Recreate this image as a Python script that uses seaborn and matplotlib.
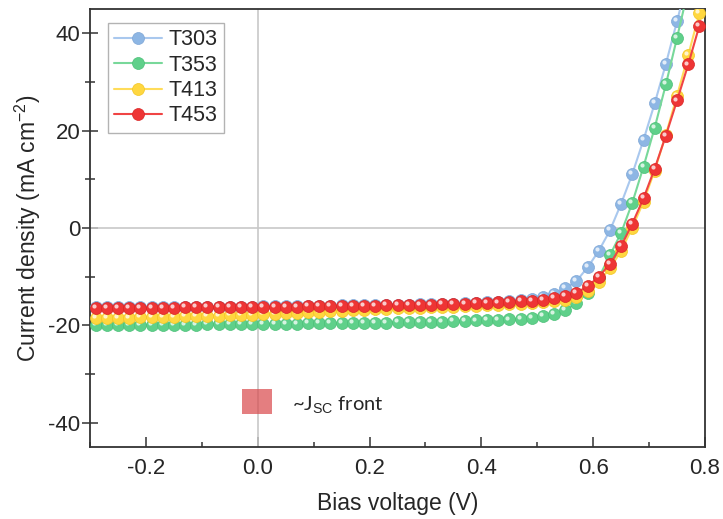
import numpy as np
import pandas as pd
import matplotlib
matplotlib.use("Agg")
import matplotlib.pyplot as plt
import seaborn as sns
from matplotlib.patches import Rectangle
from matplotlib.transforms import ScaledTranslation
from matplotlib.ticker import MultipleLocator, FixedLocator, FixedFormatter

# ---------------- data ----------------
voltage = [-0.29, -0.27, -0.25, -0.23, -0.21, -0.19, -0.17, -0.15, -0.13, -0.11,
           -0.09, -0.07, -0.05, -0.03, -0.01, 0.01, 0.03, 0.05, 0.07, 0.09,
           0.11, 0.13, 0.15, 0.17, 0.19, 0.21, 0.23, 0.25, 0.27, 0.29,
           0.31, 0.33, 0.35, 0.37, 0.39, 0.41, 0.43, 0.45, 0.47, 0.49,
           0.51, 0.53, 0.55, 0.57, 0.59, 0.61, 0.63, 0.65, 0.67, 0.69,
           0.71, 0.73, 0.75, 0.77, 0.79]

j_t303 = [-16.3, -16.3, -16.3, -16.3, -16.3, -16.3, -16.3, -16.3, -16.2, -16.2,
          -16.2, -16.2, -16.2, -16.2, -16.2, -16.1, -16.1, -16.1, -16.1, -16.0,
          -16.0, -16.0, -15.9, -15.9, -15.9, -15.9, -15.8, -15.8, -15.8, -15.7,
          -15.7, -15.6, -15.6, -15.5, -15.4, -15.3, -15.2, -15.1, -14.8, -14.5,
          -14.1, -13.5, -12.4, -10.9, -8.1, -4.7, -0.5, 5.0, 11.1, 18.1,
          25.6, 33.7, 42.5, 51.5, 60.5]

j_t353 = [-20.0, -20.0, -20.0, -20.0, -20.0, -19.9, -19.9, -19.9, -19.9, -19.9,
          -19.8, -19.8, -19.8, -19.8, -19.8, -19.7, -19.7, -19.7, -19.7, -19.6,
          -19.6, -19.6, -19.6, -19.6, -19.5, -19.5, -19.5, -19.4, -19.4, -19.4,
          -19.3, -19.3, -19.2, -19.1, -19.0, -18.9, -18.9, -18.8, -18.7, -18.5,
          -18.1, -17.7, -16.9, -15.4, -13.3, -10.2, -5.6, -1.0, 5.2, 12.6,
          20.6, 29.5, 39.1, 49.0, 59.0]

j_t413 = [-18.5, -18.5, -18.4, -18.4, -18.3, -18.3, -18.2, -18.2, -18.1, -18.1,
          -18.0, -18.0, -17.9, -17.9, -17.8, -17.7, -17.6, -17.5, -17.4, -17.3,
          -17.2, -17.1, -17.0, -16.9, -16.8, -16.7, -16.6, -16.5, -16.4, -16.4,
          -16.3, -16.3, -16.2, -16.1, -16.0, -15.9, -15.8, -15.7, -15.6, -15.5,
          -15.3, -15.1, -14.8, -14.2, -13.0, -11.0, -8.3, -4.7, 0.1, 5.4,
          11.8, 19.2, 27.2, 35.5, 44.2]

j_t453 = [-16.4, -16.4, -16.4, -16.4, -16.4, -16.4, -16.4, -16.4, -16.3, -16.3,
          -16.3, -16.3, -16.3, -16.3, -16.3, -16.2, -16.2, -16.2, -16.2, -16.1,
          -16.1, -16.1, -16.0, -16.0, -16.0, -16.0, -15.9, -15.9, -15.9, -15.8,
          -15.8, -15.7, -15.7, -15.6, -15.5, -15.4, -15.3, -15.2, -15.0, -14.9,
          -14.7, -14.4, -14.0, -13.3, -12.0, -10.0, -7.4, -3.7, 0.9, 6.1,
          12.2, 19.0, 26.2, 33.6, 41.6]

series_names = ["T303", "T353", "T413", "T453"]
series_values = [j_t303, j_t353, j_t413, j_t453]

x_ticks = [-0.2, 0.0, 0.2, 0.4, 0.6, 0.8]
x_tick_labels = ["-0.2", "0.0", "0.2", "0.4", "0.6", "0.8"]
y_ticks = [-40, -20, 0, 20, 40]
y_tick_labels = ["-40", "-20", "0", "20", "40"]

# ---------------- style ----------------
sns.set_style("white")
plt.rcParams["font.family"] = ["Liberation Sans", "DejaVu Sans"]
plt.rcParams["axes.unicode_minus"] = False
plt.rcParams["mathtext.fontset"] = "custom"
plt.rcParams["mathtext.rm"] = "Liberation Sans"
plt.rcParams["mathtext.it"] = "Liberation Sans:italic"

line_colors = ["#A9C8EE", "#78D89A", "#FFDC5A", "#F04444"]
dot_colors = ["#8DB6E4", "#5FD08A", "#FFD740", "#EE3535"]
edge_colors = ["#7FA6D6", "#4CBF78", "#F2C623", "#D92525"]

df = pd.concat(
    [pd.DataFrame({"V": voltage, "J": vals, "series": name})
     for name, vals in zip(series_names, series_values)],
    ignore_index=True)

fig = plt.figure(figsize=(7.23, 5.19), dpi=100)
ax = fig.add_axes([90 / 723, 1 - 447 / 519, 615 / 723, 438 / 519])

ax.axvline(0, color="#C8C8C8", lw=1.2, zorder=1)
ax.axhline(0, color="#C8C8C8", lw=1.2, zorder=1)

hl_trans = ax.transData + ScaledTranslation(-1.4 / 72, 1.4 / 72, fig.dpi_scale_trans)
for i, name in enumerate(series_names):
    sub = df[df["series"] == name]
    sns.lineplot(data=sub, x="V", y="J", ax=ax, color=line_colors[i],
                 marker="o", markersize=8.6, markerfacecolor=dot_colors[i],
                 markeredgecolor=edge_colors[i], markeredgewidth=0.5,
                 linewidth=1.5, sort=False, estimator=None, label=name,
                 zorder=3 + i, legend=False)
    ax.plot(sub["V"], sub["J"], linestyle="none", marker="o", markersize=3.0,
            color="white", alpha=0.75, markeredgewidth=0,
            transform=hl_trans, zorder=3.5 + i)

ax.set_xlim(-0.3, 0.8)
ax.set_ylim(-45, 45)

ax.xaxis.set_major_locator(FixedLocator(x_ticks))
ax.xaxis.set_major_formatter(FixedFormatter(x_tick_labels))
ax.xaxis.set_minor_locator(MultipleLocator(0.1))
ax.yaxis.set_major_locator(FixedLocator(y_ticks))
ax.yaxis.set_major_formatter(FixedFormatter(y_tick_labels))
ax.yaxis.set_minor_locator(MultipleLocator(10))

ax.tick_params(axis="x", which="major", direction="in", length=7, width=1.1,
               color="#333333", labelsize=16, pad=8, bottom=True, top=False)
ax.tick_params(axis="x", which="minor", direction="in", length=3.5, width=1.1,
               color="#333333", bottom=True, top=False)
ax.tick_params(axis="y", which="major", direction="inout", length=12, width=1.1,
               color="#333333", labelsize=16, pad=1, left=True, right=False)
ax.tick_params(axis="y", which="minor", direction="inout", length=7, width=1.1,
               color="#333333", left=True, right=False)

for sp in ax.spines.values():
    sp.set_visible(True)
    sp.set_linewidth(1.3)
    sp.set_color("#333333")

ax.set_xlabel("Bias voltage (V)", fontsize=16.5, labelpad=9)
ax.set_ylabel(r"Current density (mA cm$^{-2}$)", fontsize=16.5, labelpad=4)

# legend
handles = [l for l in ax.get_lines() if l.get_label() in series_names]
leg = ax.legend(handles=handles, labels=series_names, loc="upper left",
                bbox_to_anchor=(0.029, 0.968), borderaxespad=0,
                fontsize=15.5, frameon=True, fancybox=False,
                edgecolor="#A0A0A0", handlelength=2.2, handletextpad=0.3,
                labelspacing=0.2, borderpad=0.3)
leg.get_frame().set_linewidth(1.0)

# ~Jsc front marker
ax.add_patch(Rectangle((-0.028, -38.2), 0.054, 5.1, facecolor="#D9484B",
                       alpha=0.7, edgecolor="none", zorder=2))
ax.text(0.062, -36.4, r"~J$_{\mathrm{SC}}$ front", fontsize=14.5,
        va="center", ha="left", family=["Lato", "DejaVu Sans"], zorder=2)

fig.savefig("out.png", dpi=100)
